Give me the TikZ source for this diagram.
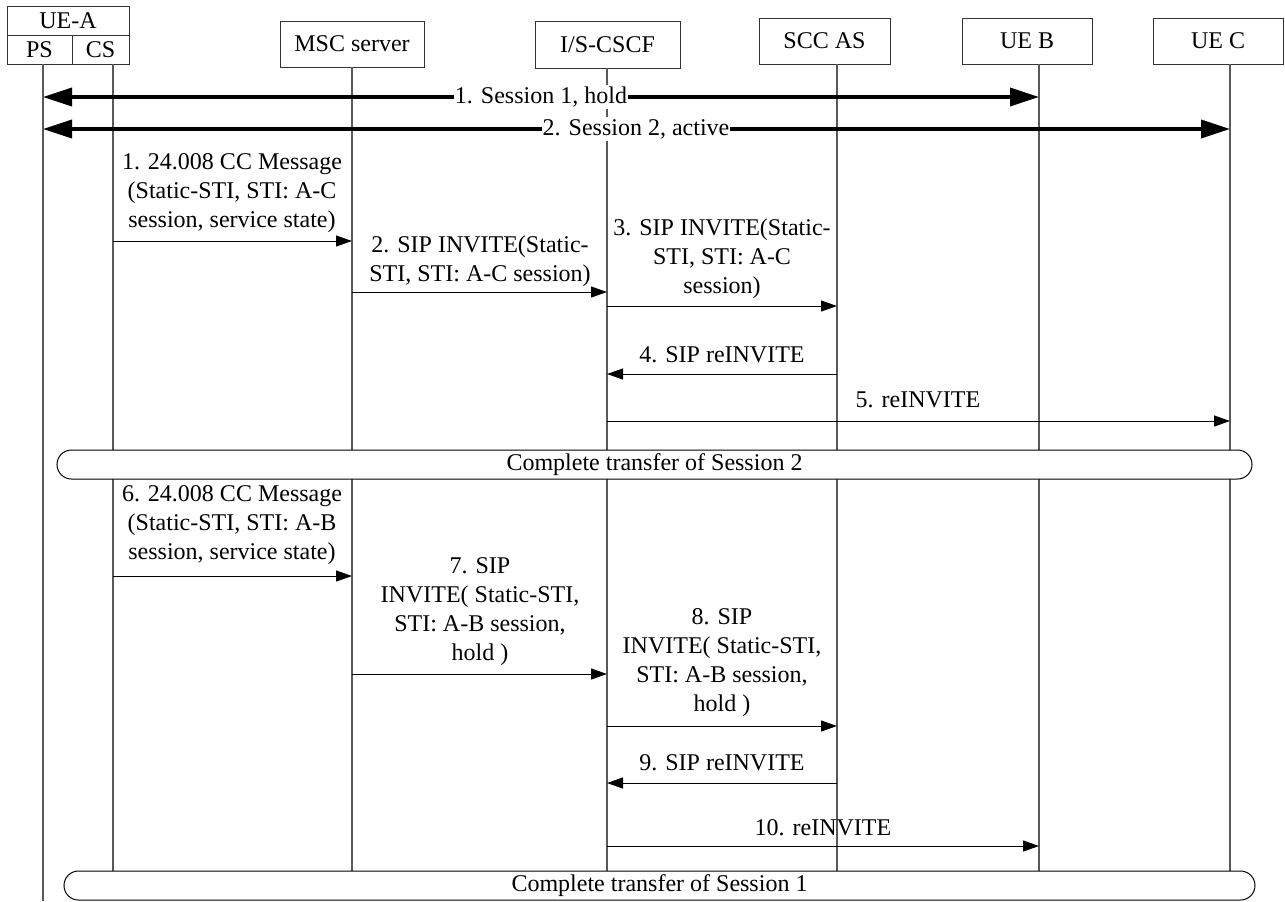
\documentclass[tikz,border=0pt]{standalone}
\usepackage{fontspec}
\setmainfont{Liberation Serif}
\usetikzlibrary{arrows.meta,shapes.misc}
\begin{document}
\begin{tikzpicture}[x=0.5pt,y=-0.5pt,
  every node/.style={font=\fontsize{12}{14.5}\selectfont},
  hdr/.style={draw=black!80, line width=0.5pt, inner sep=0pt, fill=white},
  life/.style={draw=black!65, line width=0.6pt},
  msg/.style={draw=black, line width=0.5pt, -{Triangle[length=8pt,width=5.5pt]}},
  sess/.style={line width=1.75pt, {Triangle[length=14.5pt,width=9pt]}-{Triangle[length=14.5pt,width=9pt]}},
  lbl/.style={align=center, inner sep=0pt},
  slbl/.style={fill=white, inner xsep=0.5pt, inner ysep=1pt},
  phase/.style={rounded rectangle, draw=black, line width=0.5pt, fill=white, minimum height=14.5pt, inner sep=0pt}
]
\useasboundingbox (0,0) rectangle (1285,901);

% entity headers
\node[hdr, minimum width=61pt, minimum height=14.5pt] (uea) at (68,20.5) {UE-A};
\node[hdr, minimum width=32.5pt, minimum height=14.5pt] (ps) at (39.5,49.5) {PS};
\node[hdr, minimum width=28.5pt, minimum height=14.5pt] (cs) at (100.5,49.5) {CS};
\node[hdr, minimum width=72pt, minimum height=23pt] (msc) at (352,44) {MSC server};
\node[hdr, minimum width=72.5pt, minimum height=23.5pt] (cscf) at (607.5,44.5) {I/S-CSCF};
\node[hdr, minimum width=65.5pt, minimum height=23pt] (scc) at (824.5,41) {SCC AS};
\node[hdr, minimum width=65pt, minimum height=23pt] (ueb) at (1027,41) {UE B};
\node[hdr, minimum width=65pt, minimum height=23pt] (uec) at (1218,41) {UE C};

% lifeline tops
\coordinate (lPS) at (43,64);
\coordinate (lCS) at (113,64);
\coordinate (lMSC) at (352,67);
\coordinate (lI) at (607,68);
\coordinate (lS) at (837,64);
\coordinate (lB) at (1039,64);
\coordinate (lC) at (1230,64);

% lifelines
\draw[life] (lPS) -- (lPS |- 0,901);
\foreach \l in {lCS,lMSC,lI,lS,lB,lC}
  \draw[life] (\l) -- (\l |- 0,885);

% established sessions
\draw[sess] (lPS |- 0,97) -- (lB |- 0,97);
\node[slbl] (s1) at (541,97) {1. Session 1, hold};
\draw[sess] (lPS |- 0,129) -- (lC |- 0,129);
\node[slbl] (s2) at (636,129) {2. Session 2, active};

% transfer of session 2
\node[lbl] (t1) at (232,193) {1. 24.008 CC Message\\(Static-STI, STI: A-C\\session, service state)};
\draw[msg] (lCS |- 0,241) -- (lMSC |- 0,241);
\node[lbl] (t2) at (480,261) {2. SIP INVITE(Static-\\STI, STI: A-C session)};
\draw[msg] (lMSC |- 0,292) -- (lI |- 0,292);
\node[lbl] (t3) at (722,259) {3. SIP INVITE(Static-\\STI, STI: A-C\\session)};
\draw[msg] (lI |- 0,306) -- (lS |- 0,306);
\node[lbl] (t4) at (722,355) {4. SIP reINVITE};
\draw[msg] (lS |- 0,374) -- (lI |- 0,374);
\node[lbl] (t5) at (918,400) {5. reINVITE};
\draw[msg] (lI |- 0,421) -- (lC |- 0,421);

\node[phase, minimum width=597.5pt] (ph2) at (654.5,464.5) {Complete transfer of Session 2};

% transfer of session 1
\node[lbl] (t6) at (232,525) {6. 24.008 CC Message\\(Static-STI, STI: A-B\\session, service state)};
\draw[msg] (lCS |- 0,576) -- (lMSC |- 0,576);
\node[lbl] (t7) at (480,612) {7. SIP\\INVITE( Static-STI,\\STI: A-B session,\\hold )};
\draw[msg] (lMSC |- 0,674) -- (lI |- 0,674);
\node[lbl] (t8) at (722,663) {8. SIP\\INVITE( Static-STI,\\STI: A-B session,\\hold )};
\draw[msg] (lI |- 0,726) -- (lS |- 0,726);
\node[lbl] (t9) at (722,763) {9. SIP reINVITE};
\draw[msg] (lS |- 0,783) -- (lI |- 0,783);
\node[lbl] (t10) at (823,828) {10. reINVITE};
\draw[msg] (lI |- 0,846) -- (lB |- 0,846);

\node[phase, minimum width=595.5pt] (ph1) at (659.5,885.5) {Complete transfer of Session 1};
\end{tikzpicture}
\end{document}
